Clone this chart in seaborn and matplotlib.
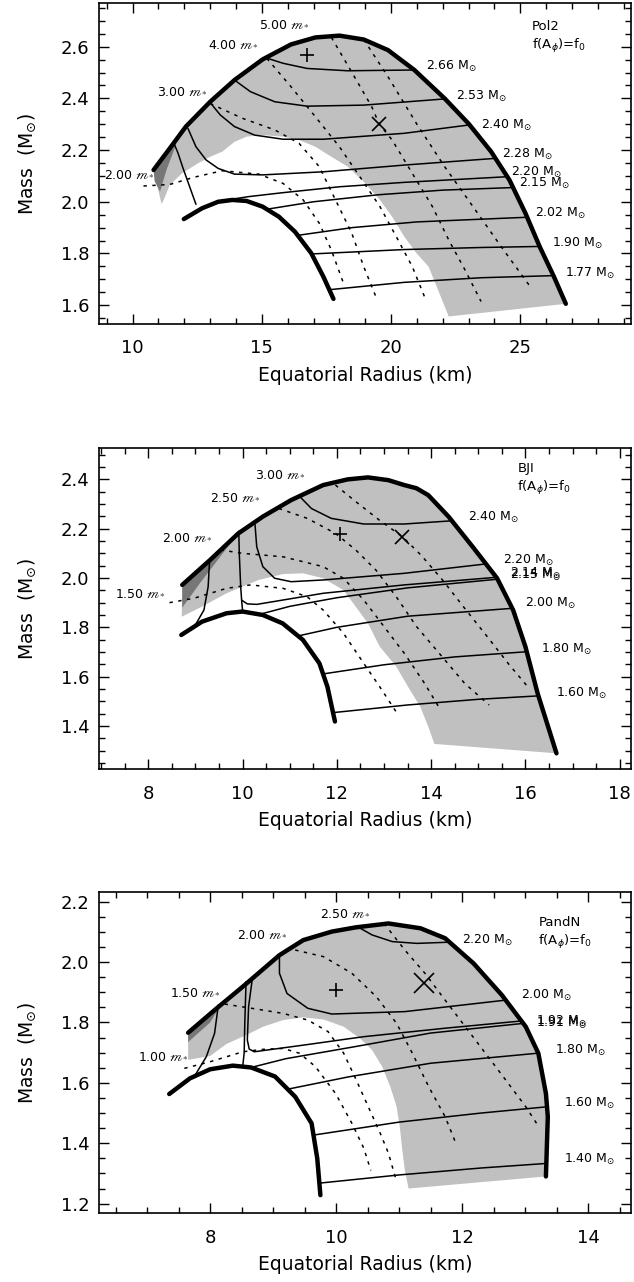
import matplotlib
matplotlib.use("Agg")
import matplotlib.pyplot as plt
from matplotlib.ticker import MultipleLocator, FormatStrFormatter
import seaborn as sns

# ---------------------------------------------------------------------
# Pol2 panel
# ---------------------------------------------------------------------
p1_outer_r = [10.81, 11.44, 12.06, 13.00, 13.94, 15.03, 16.13, 17.07, 18.00, 18.94,
              19.88, 20.90, 22.07, 23.01, 23.87, 24.58, 25.20, 25.75, 26.30, 26.76]
p1_outer_m = [2.123, 2.207, 2.291, 2.387, 2.471, 2.551, 2.609, 2.636, 2.643, 2.628,
              2.587, 2.510, 2.400, 2.301, 2.194, 2.084, 1.955, 1.826, 1.710, 1.605]
p1_inner_r = [11.98, 12.69, 13.31, 13.86, 14.41, 15.03, 15.66, 16.28, 16.91, 17.38, 17.77]
p1_inner_m = [1.933, 1.975, 2.000, 2.007, 2.003, 1.981, 1.942, 1.884, 1.801, 1.710, 1.624]

p1_seq_r = [
    [17.65, 20.5, 23.5, 26.28],
    [16.93, 20.5, 23.5, 25.75],
    [16.39, 18.5, 21.0, 25.26],
    [15.19, 17.0, 19.5, 22.0, 24.72],
    [13.39, 14.5, 15.8, 18.0, 20.5, 24.50],
    [12.14, 12.45, 12.84, 13.31, 13.94, 15.03, 17.38, 20.51, 24.04],
    [13.00, 13.39, 13.94, 14.72, 15.82, 17.38, 20.51, 23.00],
    [13.94, 14.56, 15.50, 16.75, 18.94, 22.07],
    [15.19, 15.82, 16.75, 18.31, 20.90],
    [11.59, 11.75, 11.95, 12.20, 12.45],
]
p1_seq_m = [
    [1.660, 1.688, 1.706, 1.714],
    [1.798, 1.815, 1.823, 1.827],
    [1.870, 1.900, 1.922, 1.940],
    [1.971, 2.000, 2.027, 2.045, 2.055],
    [2.003, 2.020, 2.035, 2.058, 2.075, 2.097],
    [2.284, 2.213, 2.162, 2.129, 2.107, 2.104, 2.116, 2.142, 2.168],
    [2.384, 2.336, 2.291, 2.258, 2.242, 2.242, 2.265, 2.297],
    [2.471, 2.426, 2.387, 2.370, 2.374, 2.398],
    [2.556, 2.536, 2.516, 2.507, 2.510],
    [2.228, 2.190, 2.130, 2.060, 1.990],
]
p1_dash_r = [
    [10.42, 11.44, 12.38, 13.47, 14.88, 15.82, 16.60, 17.22, 17.69, 18.16],
    [13.00, 14.25, 15.50, 16.44, 17.22, 17.85, 18.48, 18.94, 19.41],
    [15.19, 16.13, 17.07, 18.00, 18.79, 19.57, 20.20, 20.82, 21.29],
    [17.69, 18.47, 19.25, 19.54, 20.04, 20.82, 21.60, 22.23, 22.86, 23.48],
    [18.94, 19.88, 20.98, 22.07, 23.17, 24.26, 25.43],
]
p1_dash_m = [
    [2.061, 2.067, 2.095, 2.120, 2.107, 2.071, 2.007, 1.917, 1.813, 1.684],
    [2.380, 2.323, 2.278, 2.226, 2.136, 2.007, 1.878, 1.749, 1.633],
    [2.555, 2.445, 2.329, 2.213, 2.097, 1.981, 1.865, 1.749, 1.633],
    [2.636, 2.503, 2.368, 2.301, 2.239, 2.110, 1.981, 1.852, 1.736, 1.614],
    [2.628, 2.484, 2.303, 2.136, 1.981, 1.826, 1.665],
]
# inner edge of the grey band, from its bottom corner up to its left tip
p1_gray_r = [26.76, 22.23, 21.92, 21.45, 20.98, 20.51, 20.04, 19.57, 18.94, 18.32, 17.69,
             17.07, 16.44, 15.82, 15.03, 14.41, 13.94, 13.47, 13.00, 12.53, 11.91,
             11.44, 11.20, 11.12]
p1_gray_m = [1.605, 1.556, 1.633, 1.749, 1.801, 1.865, 1.942, 2.007, 2.078, 2.136, 2.174,
             2.213, 2.239, 2.252, 2.258, 2.252, 2.232, 2.194, 2.174, 2.149, 2.110,
             2.065, 2.007, 1.991]
p1_dark_r = [10.81, 11.44, 11.83, 11.60, 11.30, 11.06, 10.85]
p1_dark_m = [2.123, 2.207, 2.271, 2.200, 2.120, 2.039, 2.080]
p1_plus = (16.75, 2.568)
p1_cross = (19.54, 2.301)
p1_seq_labels = ["2.66", "2.53", "2.40", "2.28", "2.20", "2.15", "2.02", "1.90", "1.77"]
p1_seq_lab_r = [21.34, 22.51, 23.48, 24.31, 24.65, 24.93, 25.56, 26.22, 26.73]
p1_seq_lab_m = [2.523, 2.407, 2.297, 2.185, 2.113, 2.071, 1.955, 1.837, 1.723]
p1_ms_labels = ["5.00", "4.00", "3.00", "2.00"]
p1_ms_lab_r = [14.88, 12.92, 10.94, 8.91]
p1_ms_lab_m = [2.688, 2.610, 2.426, 2.107]

# ---------------------------------------------------------------------
# BJI panel
# ---------------------------------------------------------------------
p2_outer_r = [8.72, 9.31, 9.91, 10.43, 11.03, 11.71, 12.23, 12.66, 13.09, 13.43,
              13.69, 13.94, 14.37, 14.88, 15.40, 15.74, 16.00, 16.26, 16.66]
p2_outer_m = [1.972, 2.073, 2.181, 2.249, 2.316, 2.377, 2.400, 2.408, 2.397, 2.377,
              2.364, 2.336, 2.249, 2.127, 1.999, 1.870, 1.722, 1.532, 1.289]
p2_inner_r = [8.70, 9.14, 9.66, 10.00, 10.43, 10.85, 11.28, 11.63, 11.80, 11.96]
p2_inner_m = [1.769, 1.823, 1.857, 1.864, 1.850, 1.816, 1.749, 1.654, 1.559, 1.418]

p2_seq_r = [
    [11.92, 13.5, 15.0, 16.28],
    [11.71, 13.0, 14.5, 16.03],
    [11.18, 12.0, 13.5, 15.72],
    [10.35, 11.0, 12.0, 13.5, 15.40],
    [9.98, 10.10, 10.30, 10.68, 11.71, 13.43, 15.40],
    [10.26, 10.30, 10.43, 10.68, 11.03, 11.71, 13.43, 15.16],
    [11.20, 11.46, 11.88, 12.57, 13.43, 14.44],
    [9.92, 9.93, 9.96, 9.98, 10.00],
    [9.30, 9.27, 9.18, 9.00],
]
p2_seq_m = [
    [1.454, 1.485, 1.508, 1.522],
    [1.611, 1.648, 1.680, 1.701],
    [1.765, 1.800, 1.845, 1.877],
    [1.852, 1.885, 1.920, 1.960, 1.995],
    [1.910, 1.895, 1.893, 1.905, 1.938, 1.972, 2.003],
    [2.227, 2.127, 2.046, 1.999, 1.985, 1.992, 2.019, 2.057],
    [2.333, 2.282, 2.242, 2.219, 2.219, 2.232],
    [2.190, 2.100, 1.965, 1.910, 1.866],
    [2.073, 1.965, 1.870, 1.810],
]
p2_dash_r = [
    [8.45, 8.97, 9.66, 10.17, 10.86, 11.37, 11.71, 12.14, 12.57, 12.91, 13.30],
    [9.53, 10.00, 10.86, 11.71, 12.14, 12.57, 13.00, 13.43, 13.86, 14.20],
    [10.77, 11.37, 11.97, 12.40, 12.83, 13.26, 13.69, 14.29, 14.71, 15.23],
    [11.97, 12.40, 12.90, 13.39, 13.80, 14.25, 14.70, 15.20, 15.65, 16.09],
]
p2_dash_m = [
    [1.900, 1.918, 1.958, 1.972, 1.958, 1.924, 1.870, 1.776, 1.654, 1.559, 1.445],
    [2.114, 2.100, 2.086, 2.046, 1.999, 1.911, 1.803, 1.695, 1.573, 1.465],
    [2.282, 2.242, 2.181, 2.114, 2.032, 1.924, 1.803, 1.668, 1.573, 1.485],
    [2.377, 2.310, 2.235, 2.168, 2.090, 1.990, 1.880, 1.760, 1.650, 1.550],
]
p2_gray_r = [16.66, 14.07, 13.94, 13.77, 13.51, 13.26, 12.91, 12.66, 12.40, 12.14, 11.71,
             11.28, 10.86, 10.34, 9.66, 9.14, 8.71]
p2_gray_m = [1.289, 1.327, 1.397, 1.478, 1.559, 1.641, 1.722, 1.816, 1.884, 1.951, 1.999,
             2.019, 2.016, 1.992, 1.938, 1.884, 1.843]
p2_dark_r = [8.72, 9.31, 9.91, 9.50, 9.10, 8.72]
p2_dark_m = [1.972, 2.073, 2.181, 2.080, 1.980, 1.880]
p2_plus = (12.06, 2.178)
p2_cross = (13.39, 2.168)
p2_seq_labels = ["2.40", "2.20", "2.14", "2.15", "2.00", "1.80", "1.60"]
p2_seq_lab_r = [14.78, 15.53, 15.68, 15.68, 15.99, 16.33, 16.65]
p2_seq_lab_m = [2.246, 2.073, 2.019, 2.012, 1.895, 1.712, 1.532]
p2_ms_labels = ["3.00", "2.50", "2.00", "1.50"]
p2_ms_lab_r = [10.27, 9.30, 8.30, 7.30]
p2_ms_lab_m = [2.418, 2.327, 2.165, 1.938]

# ---------------------------------------------------------------------
# PandN panel
# ---------------------------------------------------------------------
p3_outer_r = [7.65, 8.07, 8.52, 9.10, 9.48, 9.93, 10.31, 10.83, 11.34, 11.73, 12.18,
              12.63, 13.01, 13.21, 13.33, 13.36, 13.33]
p3_outer_m = [1.766, 1.841, 1.919, 2.023, 2.073, 2.101, 2.115, 2.128, 2.112, 2.079, 1.996,
              1.891, 1.786, 1.698, 1.565, 1.488, 1.290]
p3_inner_r = [7.35, 7.68, 8.00, 8.36, 8.65, 9.03, 9.35, 9.61, 9.70, 9.75]
p3_inner_m = [1.563, 1.615, 1.645, 1.657, 1.651, 1.621, 1.554, 1.466, 1.350, 1.228]

p3_seq_r = [
    [9.74, 11.0, 12.3, 13.33],
    [9.64, 11.0, 12.3, 13.36],
    [9.23, 10.2, 11.5, 13.19],
    [8.65, 9.2, 10.3, 11.5, 12.97],
    [8.67, 8.61, 8.59, 8.62, 8.70, 9.48, 10.44, 11.73, 12.94],
    [8.57, 8.55, 8.54, 8.52],
    [8.13, 8.07, 7.94, 7.76],
    [9.10, 9.10, 9.22, 9.55, 9.93, 11.09, 12.69],
    [10.35, 10.57, 10.89, 11.28, 11.80],
]
p3_seq_m = [
    [1.268, 1.295, 1.318, 1.333],
    [1.427, 1.470, 1.500, 1.521],
    [1.579, 1.620, 1.665, 1.698],
    [1.651, 1.680, 1.720, 1.765, 1.797],
    [1.946, 1.852, 1.742, 1.712, 1.703, 1.725, 1.753, 1.781, 1.805],
    [1.935, 1.800, 1.700, 1.660],
    [1.858, 1.764, 1.687, 1.625],
    [2.023, 1.963, 1.896, 1.847, 1.828, 1.836, 1.874],
    [2.116, 2.090, 2.068, 2.062, 2.066],
]
p3_dash_r = [
    [7.59, 8.00, 8.52, 8.84, 9.16, 9.42, 9.67, 9.99, 10.25, 10.44, 10.55],
    [8.23, 8.78, 9.16, 9.55, 9.87, 10.12, 10.32, 10.51, 10.70, 10.83, 10.95],
    [9.35, 9.80, 10.25, 10.64, 10.96, 11.21, 11.47, 11.73, 11.90],
    [10.76, 11.09, 11.41, 11.73, 12.05, 12.37, 12.69, 13.01, 13.20],
]
p3_dash_m = [
    [1.648, 1.670, 1.703, 1.711, 1.714, 1.698, 1.654, 1.565, 1.466, 1.383, 1.310],
    [1.861, 1.843, 1.830, 1.808, 1.770, 1.698, 1.609, 1.521, 1.433, 1.367, 1.280],
    [2.040, 2.018, 1.963, 1.885, 1.797, 1.698, 1.587, 1.488, 1.400],
    [2.128, 2.040, 1.963, 1.874, 1.786, 1.698, 1.610, 1.521, 1.460],
]
p3_gray_r = [13.33, 11.15, 11.09, 11.05, 11.01, 10.96, 10.86, 10.73, 10.57, 10.38, 10.12,
             9.80, 9.48, 9.16, 8.84, 8.58, 8.26, 8.00, 7.65]
p3_gray_m = [1.290, 1.250, 1.311, 1.378, 1.455, 1.521, 1.587, 1.654, 1.709, 1.747, 1.786,
             1.810, 1.817, 1.808, 1.786, 1.759, 1.729, 1.689, 1.676]
p3_dark_r = [7.65, 8.07, 8.16, 8.00, 7.65]
p3_dark_m = [1.766, 1.841, 1.855, 1.800, 1.735]
p3_plus = (9.99, 1.908)
p3_cross = (11.39, 1.930)
p3_seq_labels = ["2.20", "2.00", "1.92", "1.91", "1.80", "1.60", "1.40"]
p3_seq_lab_r = [12.00, 12.93, 13.17, 13.17, 13.47, 13.62, 13.62]
p3_seq_lab_m = [2.073, 1.888, 1.803, 1.798, 1.709, 1.532, 1.347]
p3_ms_labels = ["2.50", "2.00", "1.50", "1.00"]
p3_ms_lab_r = [9.74, 8.42, 7.36, 6.85]
p3_ms_lab_m = [2.161, 2.090, 1.899, 1.687]

panel_names = ["Pol2", "BJI", "PandN"]
x_limits = [(8.71, 29.28), (6.96, 18.24), (6.24, 14.68)]
y_limits = [(1.527, 2.768), (1.224, 2.526), (1.168, 2.233)]
x_steps = [(5, 1), (2, 0.5), (2, 0.5)]
name_pos = [(25.44, 2.677), (15.83, 2.445), (13.21, 2.130)]
cross_size = [10, 10, 14]


def draw_panel(ax, outer, inner, seqs, dashes, gray, dark, plus, cross,
               seq_labs, ms_labs, idx):
    gray_r = outer[0] + gray[0]
    gray_m = outer[1] + gray[1]
    ax.fill(gray_r, gray_m, color="#c0c0c0", lw=0, zorder=1)
    ax.fill(dark[0], dark[1], color="#777777", lw=0, zorder=1.2)

    for r, m in zip(*seqs):
        sns.lineplot(x=r, y=m, ax=ax, sort=False, estimator=None,
                     color="black", lw=1.1, zorder=3)
    for r, m in zip(*dashes):
        sns.lineplot(x=r, y=m, ax=ax, sort=False, estimator=None,
                     color="black", lw=1.1, linestyle=(0, (2.2, 3.6)), zorder=3)
    for r, m in (outer, inner):
        sns.lineplot(x=r, y=m, ax=ax, sort=False, estimator=None,
                     color="black", lw=3.2, zorder=4,
                     solid_capstyle="round", solid_joinstyle="round")

    ax.plot(*plus, marker="+", ms=10, mew=1.2, color="black", zorder=5)
    ax.plot(*cross, marker="x", ms=cross_size[idx], mew=1.2, color="black", zorder=5)

    for t, r, m in zip(*seq_labs):
        ax.text(r, m, t + r" M$_{\odot}$", fontsize=9, ha="left", va="center", zorder=6)
    for t, r, m in zip(*ms_labs):
        ax.text(r, m, t + r" $\mathscr{m}_{*}$", fontsize=9, ha="left", va="center",
                math_fontfamily="stix", zorder=6)

    nx, ny = name_pos[idx]
    ax.text(nx, ny, panel_names[idx], fontsize=9.5, ha="left", va="center")
    dy = (y_limits[idx][1] - y_limits[idx][0]) * 0.06
    ax.text(nx, ny - dy, r"f(A$_{\phi}$)=f$_0$", fontsize=9.5, ha="left", va="center")

    ax.set_xlim(*x_limits[idx])
    ax.set_ylim(*y_limits[idx])
    ax.xaxis.set_major_locator(MultipleLocator(x_steps[idx][0]))
    ax.xaxis.set_minor_locator(MultipleLocator(x_steps[idx][1]))
    ax.yaxis.set_major_locator(MultipleLocator(0.2))
    ax.yaxis.set_minor_locator(MultipleLocator(0.05))
    ax.yaxis.set_major_formatter(FormatStrFormatter("%.1f"))
    ax.tick_params(which="both", direction="in", top=True, right=True,
                   width=1.0, labelsize=13, color="black", labelcolor="black")
    ax.tick_params(which="major", length=7)
    ax.tick_params(which="minor", length=4)
    ax.tick_params(axis="x", pad=11)
    ax.tick_params(axis="y", pad=7)
    for sp in ax.spines.values():
        sp.set_linewidth(1.2)
        sp.set_color("black")
    ax.set_xlabel("Equatorial Radius (km)", fontsize=13.5, color="black")
    ax.set_ylabel(r"Mass  (M$_{\odot}$)", fontsize=13.5, color="black")
    ax.xaxis.set_label_coords(0.5, -0.13)
    ax.yaxis.set_label_coords(-0.115, 0.5)


sns.set_theme(style="ticks")
plt.rcParams["font.family"] = ["DejaVu Sans"]
plt.rcParams["mathtext.fontset"] = "dejavusans"
plt.rcParams["text.color"] = "black"

fig = plt.figure(figsize=(6.34, 12.82), dpi=100)
ax1 = fig.add_axes([0.1566, 0.7473, 0.8386, 0.2501])
ax2 = fig.add_axes([0.1566, 0.3999, 0.8386, 0.2504])
ax3 = fig.add_axes([0.1566, 0.0536, 0.8386, 0.2508])

draw_panel(ax1, (p1_outer_r, p1_outer_m), (p1_inner_r, p1_inner_m),
           (p1_seq_r, p1_seq_m), (p1_dash_r, p1_dash_m), (p1_gray_r, p1_gray_m),
           (p1_dark_r, p1_dark_m), p1_plus, p1_cross,
           (p1_seq_labels, p1_seq_lab_r, p1_seq_lab_m),
           (p1_ms_labels, p1_ms_lab_r, p1_ms_lab_m), 0)
draw_panel(ax2, (p2_outer_r, p2_outer_m), (p2_inner_r, p2_inner_m),
           (p2_seq_r, p2_seq_m), (p2_dash_r, p2_dash_m), (p2_gray_r, p2_gray_m),
           (p2_dark_r, p2_dark_m), p2_plus, p2_cross,
           (p2_seq_labels, p2_seq_lab_r, p2_seq_lab_m),
           (p2_ms_labels, p2_ms_lab_r, p2_ms_lab_m), 1)
draw_panel(ax3, (p3_outer_r, p3_outer_m), (p3_inner_r, p3_inner_m),
           (p3_seq_r, p3_seq_m), (p3_dash_r, p3_dash_m), (p3_gray_r, p3_gray_m),
           (p3_dark_r, p3_dark_m), p3_plus, p3_cross,
           (p3_seq_labels, p3_seq_lab_r, p3_seq_lab_m),
           (p3_ms_labels, p3_ms_lab_r, p3_ms_lab_m), 2)

fig.savefig("out.png", dpi=100)
